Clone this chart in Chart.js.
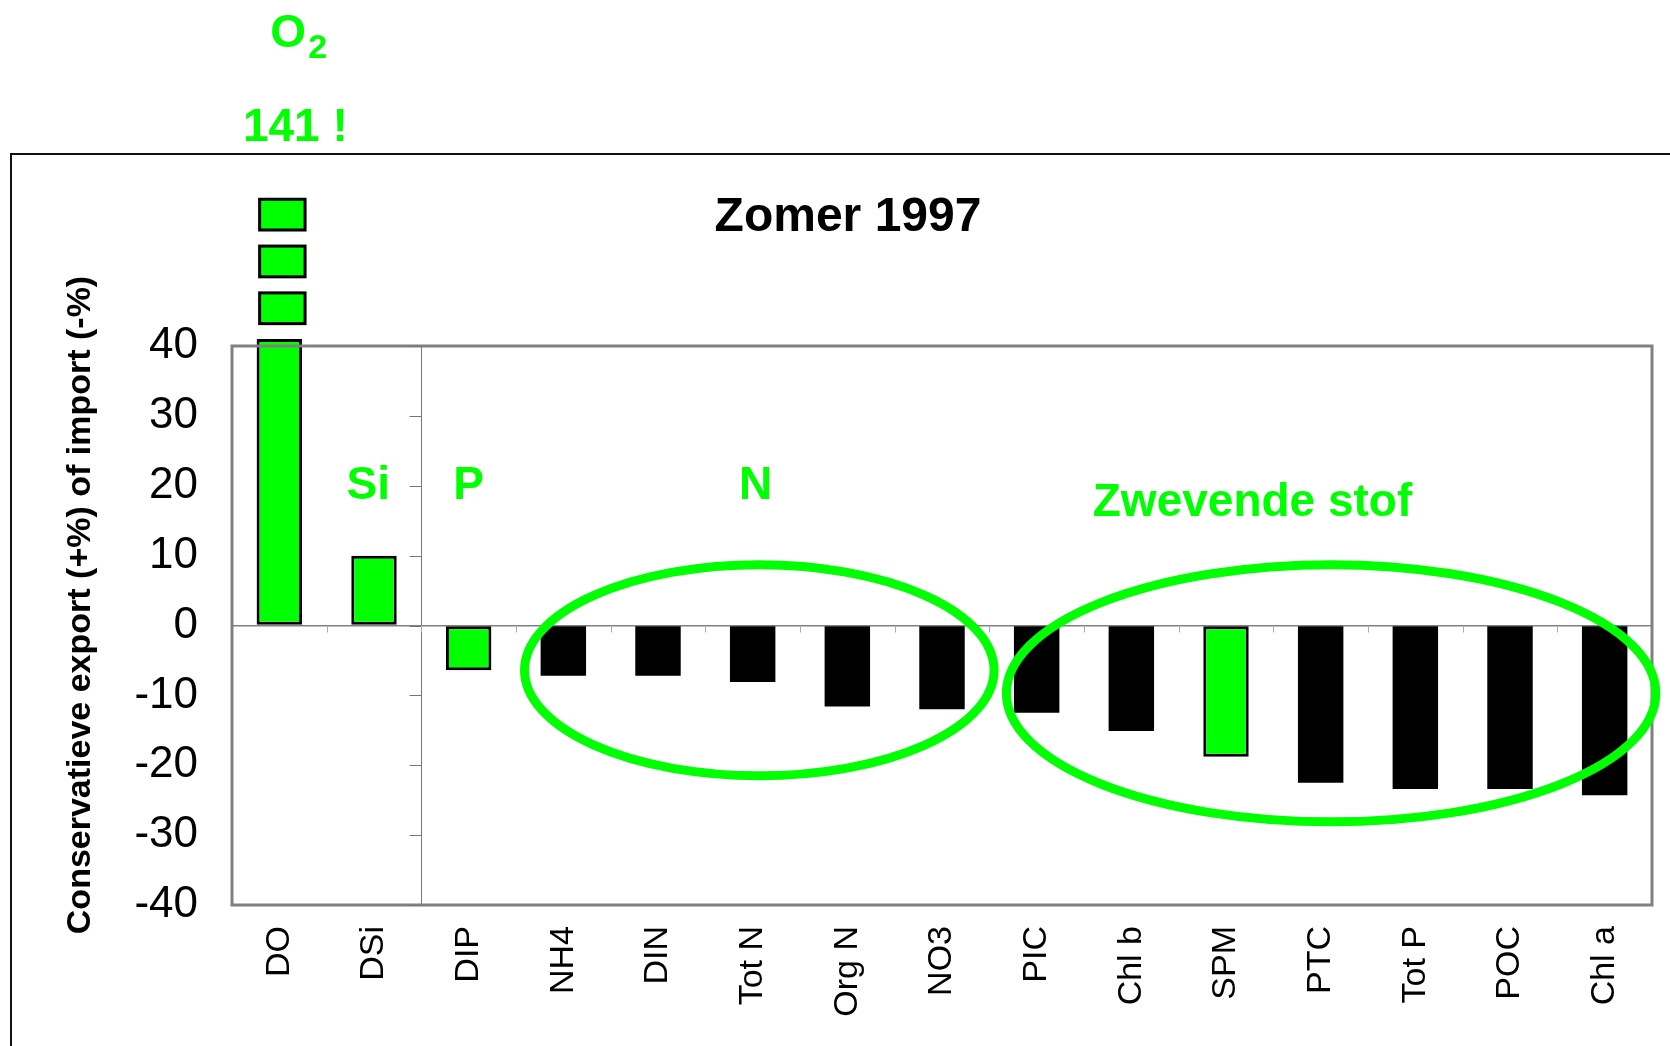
<!DOCTYPE html>
<html>
<head>
<meta charset="utf-8">
<script src="https://cdn.jsdelivr.net/npm/chart.js@4.4.0/dist/chart.umd.min.js"></script>
<style>
  html, body { margin: 0; padding: 0; background: #fff; }
  #wrap { position: relative; width: 1670px; height: 1046px; overflow: hidden; }
  #frame { position: absolute; left: 10px; top: 153px; width: 1700px; height: 1000px;
           border-left: 2px solid #111; border-top: 2px solid #111; }
  canvas { position: absolute; left: 0; top: 0; }
</style>
</head>
<body>
<div id="wrap">
  <div id="frame"></div>
  <canvas id="barChart" width="1670" height="1046"></canvas>
</div>
<script>
// values (% of import)
const categories = ["DO", "DSi", "DIP", "NH4", "DIN", "Tot N", "Org N", "NO3", "PIC", "Chl b", "SPM", "PTC", "Tot P", "POC", "Chl a"];
const exportValues = [141, 10, -6.4, -7.2, -7.2, -8.1, -11.6, -12.0, -12.5, -15.1, -18.8, -22.5, -23.4, -23.4, -24.3];
const highlighted = ["DO", "DSi", "DIP", "SPM"];
const yTicks = [-40, -30, -20, -10, 0, 10, 20, 30, 40];

// DO goes off the scale: bar is cut just above 40 and continued as broken blocks
const cutAt = 41;
const breakBlocks = [[43.2, 47.6], [49.9, 54.3], [56.6, 61.0]];

const GREEN = "#00ff00";
const FONT = "'Liberation Sans', Arial, sans-serif";
const Y_TITLE = "Conservatieve export (+%) of import (-%)";

const groupLabels = [
  { text: "Si", at: 0.94, y: 18.1 },
  { text: "P", at: 2.0, y: 18.1 },
  { text: "N", at: 5.03, y: 18.1 },
  { text: "Zwevende stof", at: 10.28, y: 15.7 },
];
const groupRings = [
  { at: 5.07, rx: 2.48, y: -6.4, ry: 15.1 },
  { at: 11.11, rx: 3.43, y: -9.7, ry: 18.4 },
];

const decorations = {
  id: "decorations",
  afterDatasetsDraw(chart) {
    const { ctx, chartArea: a, scales: { x, y } } = chart;
    ctx.save();

    // plot frame
    ctx.strokeStyle = "#808080";
    ctx.lineWidth = 3;
    ctx.strokeRect(a.left, a.top, a.right - a.left, a.bottom - a.top);

    // inner value axis between DSi and DIP
    const ax = Math.round(x.getPixelForValue(1.5)) + 0.5;
    ctx.strokeStyle = "#777";
    ctx.lineWidth = 1;
    ctx.beginPath();
    ctx.moveTo(ax, a.top);
    ctx.lineTo(ax, a.bottom);
    yTicks.forEach((t) => {
      const py = Math.round(y.getPixelForValue(t)) + 0.5;
      ctx.moveTo(ax - 12, py);
      ctx.lineTo(ax, py);
    });
    ctx.stroke();

    // small ticks on the zero line
    const y0 = y.getPixelForValue(0);
    ctx.strokeStyle = "#aaa";
    ctx.beginPath();
    for (let i = 0; i < categories.length - 1; i++) {
      const px = Math.round(x.getPixelForValue(i + 0.5)) + 0.5;
      ctx.moveTo(px, y0);
      ctx.lineTo(px, y0 + 7);
    }
    ctx.stroke();

    // broken continuation of the DO bar
    const doBar = chart.getDatasetMeta(0).data[0];
    ctx.fillStyle = GREEN;
    ctx.strokeStyle = "#000";
    ctx.lineWidth = 3;
    breakBlocks.forEach(([lo, hi]) => {
      const top = y.getPixelForValue(hi);
      const bot = y.getPixelForValue(lo);
      const left = doBar.x - doBar.width / 2 + 3;
      ctx.fillRect(left, top, doBar.width, bot - top);
      ctx.strokeRect(left, top, doBar.width, bot - top);
    });

    // rings around the groups
    ctx.strokeStyle = GREEN;
    ctx.lineWidth = 9;
    groupRings.forEach((r) => {
      const cx = x.getPixelForValue(r.at);
      const cy = y.getPixelForValue(r.y);
      const rx = x.getPixelForValue(r.at + r.rx) - cx;
      const ry = y.getPixelForValue(r.y - r.ry) - cy;
      ctx.beginPath();
      ctx.ellipse(cx, cy, rx, ry, 0, 0, Math.PI * 2);
      ctx.stroke();
    });

    // group labels
    ctx.fillStyle = GREEN;
    ctx.font = "bold 46px " + FONT;
    ctx.textAlign = "center";
    ctx.textBaseline = "alphabetic";
    groupLabels.forEach((g) => {
      ctx.fillText(g.text, x.getPixelForValue(g.at), y.getPixelForValue(g.y));
    });

    // O2 note above the DO bar
    ctx.textAlign = "left";
    ctx.font = "bold 46px " + FONT;
    ctx.fillText("O", doBar.x - 9, 47);
    ctx.font = "bold 34px " + FONT;
    ctx.fillText("2", doBar.x + 29, 58);
    ctx.textAlign = "center";
    ctx.font = "bold 46px " + FONT;
    ctx.fillText("141 !", doBar.x + 16, 141);

    // title
    ctx.fillStyle = "#000";
    ctx.font = "bold 48px " + FONT;
    ctx.fillText("Zomer 1997", 848, 231);

    // value axis title
    ctx.translate(81, 605);
    ctx.rotate(-Math.PI / 2);
    ctx.font = "bold 34px " + FONT;
    ctx.textBaseline = "middle";
    ctx.fillText(Y_TITLE, 0, 0);

    ctx.restore();
  },
};

const chart = new Chart(document.getElementById("barChart").getContext("2d"), {
  type: "bar",
  data: {
    labels: categories,
    datasets: [
      {
        data: exportValues.map((v) => Math.min(v, cutAt)),
        backgroundColor: categories.map((c) => (highlighted.includes(c) ? GREEN : "#000")),
        borderColor: "#000",
        borderWidth: categories.map((c) => (highlighted.includes(c) ? 3 : 0)),
        borderSkipped: false,
        barPercentage: 0.48,
        categoryPercentage: 1,
        clip: false,
      },
    ],
  },
  options: {
    responsive: false,
    animation: false,
    layout: { padding: { top: 346, right: 18, left: 0, bottom: 0 } },
    plugins: { legend: { display: false }, tooltip: { enabled: false } },
    scales: {
      x: {
        grid: { display: false },
        border: { display: false },
        ticks: {
          autoSkip: false,
          maxRotation: 90,
          minRotation: 90,
          padding: 13,
          color: "#000",
          font: { family: FONT, size: 34 },
        },
        afterFit: (s) => { s.height = 141; },
      },
      y: {
        min: -40,
        max: 40,
        border: { display: false },
        grid: {
          drawTicks: false,
          lineWidth: 1.5,
          color: (c) => (c.tick && c.tick.value === 0 ? "#808080" : "rgba(0,0,0,0)"),
        },
        ticks: {
          stepSize: 10,
          padding: 34,
          color: "#000",
          font: { family: FONT, size: 44 },
        },
        afterFit: (s) => { s.width = 232; },
      },
    },
  },
  plugins: [decorations],
});
</script>
</body>
</html>
